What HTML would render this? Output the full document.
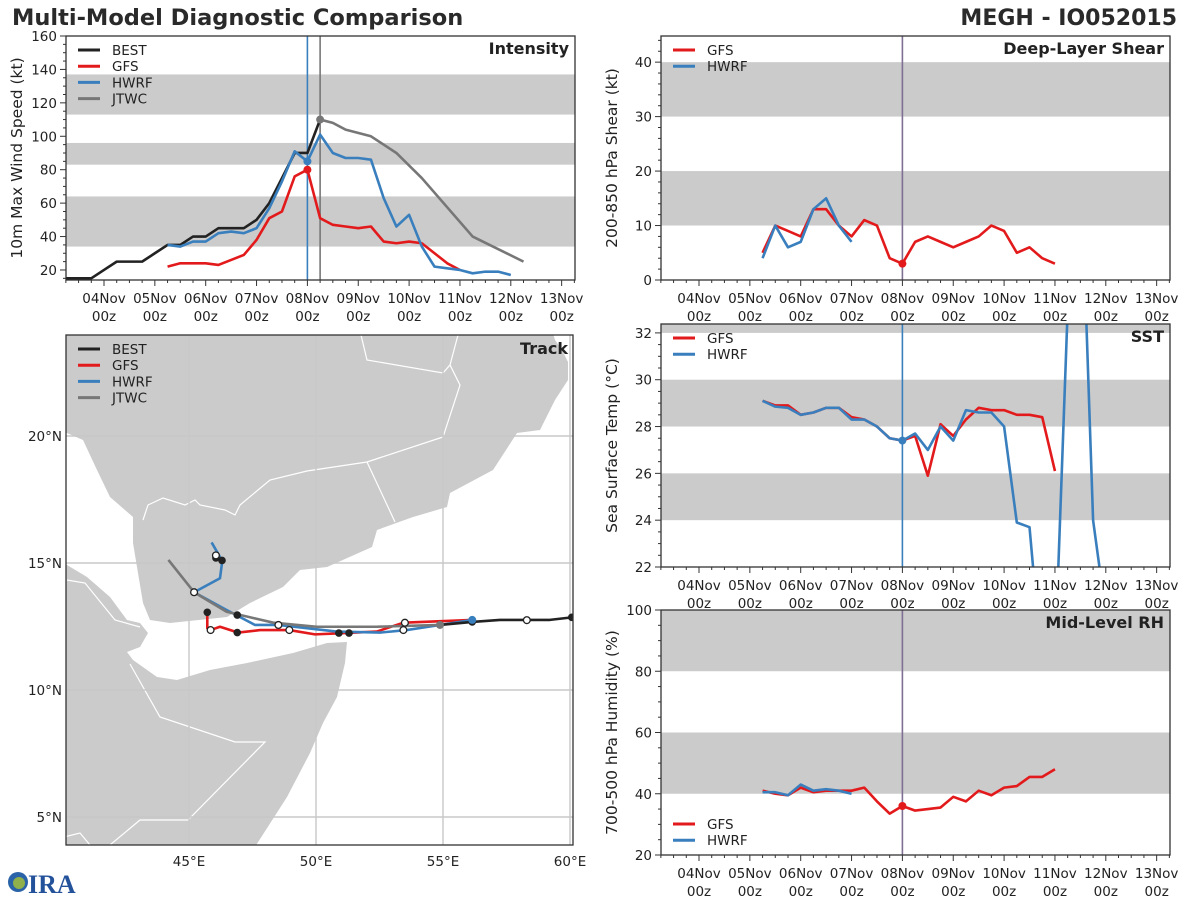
<!DOCTYPE html>
<html><head><meta charset="utf-8"><style>
body{margin:0;background:#fff;}
svg{display:block;font-family:"DejaVu Sans","Liberation Sans",sans-serif;}
</style></head><body>
<svg id="s" width="1200" height="900" viewBox="0 0 1200 900" xmlns="http://www.w3.org/2000/svg">
<text x="12" y="25" font-size="22.5" font-weight="bold" fill="#2a2a2a">Multi-Model Diagnostic Comparison</text>
<text x="1177" y="25" font-size="22" font-weight="bold" fill="#2a2a2a" text-anchor="end">MEGH - IO052015</text>
<g>
<circle cx="18" cy="882" r="10" fill="#2b63a8"/><circle cx="19" cy="883" r="6" fill="#8fb04a"/>
<text x="28" y="893" font-size="26" font-weight="bold" fill="#24529a" font-family="Liberation Serif,serif">IRA</text>
</g>
</svg>
<script>
// ---------- data ----------
const bestT=[-0.75,-0.5,-0.25,0,0.25,0.5,0.75,1,1.25,1.5,1.75,2,2.25,2.5,2.75,3,3.25,3.5,3.75,4,4.25];
const bestV=[15,15,15,20,25,25,25,30,35,35,40,40,45,45,45,50,60,75,90,90,110];
const gfsT=[1.25,1.5,1.75,2,2.25,2.5,2.75,3,3.25,3.5,3.75,4,4.25,4.5,4.75,5,5.25,5.5,5.75,6,6.25,6.5,6.75,7];
const gfsV=[22,24,24,24,23,26,29,38,51,55,76,80,51,47,46,45,46,37,36,37,36,30,24,20];
const hwrfT=[1.25,1.5,1.75,2,2.25,2.5,2.75,3,3.25,3.5,3.75,4,4.25,4.5,4.75,5,5.25,5.5,5.75,6,6.25,6.5,6.75,7,7.25,7.5,7.75,8];
const hwrfV=[35,34,37,37,42,43,42,45,57,73,91,85,101,90,87,87,86,63,46,53,34,22,21,20,18,19,19,17];
const jtwcT=[4.25,4.5,4.75,5.25,5.75,6.25,7.25,8.25];
const jtwcV=[110,108,104,100,90,75,40,25];
const shearGfsT=[1.25,1.5,1.75,2,2.25,2.5,2.75,3,3.25,3.5,3.75,4,4.25,4.5,4.75,5,5.25,5.5,5.75,6,6.25,6.5,6.75,7];
const shearGfsV=[5,10,9,8,13,13,10,8,11,10,4,3,7,8,7,6,7,8,10,9,5,6,4,3];
const shearHwrfT=[1.25,1.5,1.75,2,2.25,2.5,2.75,3];
const shearHwrfV=[4,10,6,7,13,15,10,7];
const sstGfsT=[1.25,1.5,1.75,2,2.25,2.5,2.75,3,3.25,3.5,3.75,4,4.25,4.5,4.75,5,5.25,5.5,5.75,6,6.25,6.5,6.75,7];
const sstGfsV=[29.1,28.9,28.9,28.5,28.6,28.8,28.8,28.4,28.3,28.0,27.5,27.4,27.6,25.9,28.1,27.6,28.3,28.8,28.7,28.7,28.5,28.5,28.4,26.1];
const sstHwrfT=[1.25,1.5,1.75,2,2.25,2.5,2.75,3,3.25,3.5,3.75,4,4.25,4.5,4.75,5,5.25,5.5,5.75,6,6.25,6.5,6.75,7,7.25,7.5,7.75,8];
const sstHwrfV=[29.1,28.85,28.8,28.5,28.6,28.8,28.8,28.3,28.3,28.0,27.5,27.4,27.7,27.0,28.0,27.4,28.7,28.6,28.6,28.0,23.9,23.7,17.6,18,33,40,24,20];
const rhGfsT=[1.25,1.5,1.75,2,2.25,2.5,2.75,3,3.25,3.5,3.75,4,4.25,4.5,4.75,5,5.25,5.5,5.75,6,6.25,6.5,6.75,7];
const rhGfsV=[41,40,39.5,42,40.5,41,41,41,42,37.5,33.5,36,34.5,35,35.5,39,37.5,41,39.5,42,42.5,45.5,45.5,48];
const rhHwrfT=[1.25,1.5,1.75,2,2.25,2.5,2.75,3];
const rhHwrfV=[40.5,40.5,39.5,43,41,41.5,41,40];
const dayLabels=["04Nov","05Nov","06Nov","07Nov","08Nov","09Nov","10Nov","11Nov","12Nov","13Nov"];
// track (lon, lat)
const trkBestLon=[54.88,56.15,57.24,59.21,60.07];
const trkBestLat=[12.56,12.68,12.76,12.76,12.86];
const trkGfsLon=[45.72,45.72,45.85,46.22,46.94,47.80,48.95,49.96,50.92,52.39,53.44,56.15];
const trkGfsLat=[13.06,12.43,12.36,12.49,12.26,12.36,12.36,12.19,12.23,12.30,12.65,12.76];
const trkHwrfLon=[45.89,46.31,46.22,45.20,46.48,47.60,48.52,50.81,52.52,53.57,54.88,56.15];
const trkHwrfLat=[15.81,15.08,14.40,13.85,13.15,12.56,12.56,12.30,12.26,12.36,12.56,12.76];
const trkJtwcLon=[44.19,45.2,46.48,48.32,50.03,52.39,54.88];
const trkJtwcLat=[15.12,13.85,13.08,12.65,12.49,12.49,12.56];
const mkBlackLon=[60.07,56.15,51.3,50.9,46.9,46.9,45.72,46.06,46.3];
const mkBlackLat=[12.86,12.68,12.24,12.24,12.95,12.26,13.06,15.2,15.1];
const mkWhiteLon=[58.3,53.5,53.44,48.95,48.52,45.85,45.2,46.06];
const mkWhiteLat=[12.75,12.65,12.36,12.36,12.56,12.36,13.85,15.3];

const S=document.getElementById('s');
const NS='http://www.w3.org/2000/svg';
function mk(tag,attrs,parent){const e=document.createElementNS(NS,tag);for(const k in attrs)e.setAttribute(k,attrs[k]);(parent||S).appendChild(e);return e;}
const RED='#e31a1c',BLUE='#3a7fbd',BLACK='#222',GRAY='#777',BAND='#cbcbcb';

function panel(o){
  const xs=t=>o.xt0+t*50.85;
  const ys=v=>o.y1-(v-o.vmin)/(o.vmax-o.vmin)*(o.y1-o.y0);
  const g=mk('g',{});
  
  
  const cid='c'+o.name;
  const cp=mk('clipPath',{id:cid},g);mk('rect',{x:o.x0,y:o.y0,width:o.x1-o.x0,height:o.y1-o.y0},cp);
  o.bands.forEach(b=>{const r=mk('rect',{x:o.x0,y:ys(Math.min(b[1],o.vmax)),width:o.x1-o.x0,height:ys(b[0])-ys(Math.min(b[1],o.vmax)),fill:BAND},g);
    
    });
  o.vlines.forEach(v=>{const l=mk('line',{x1:xs(v[0]),x2:xs(v[0]),y1:o.y0,y2:o.y1,stroke:v[1],'stroke-width':1.6},g);
    
    });
  const sg=mk('g',{'clip-path':'url(#'+cid+')'},g);
  o.series.forEach(s=>{
    const p=mk('polyline',{points:s.t.map((t,i)=>xs(t)+','+ys(s.v[i])).join(' '),fill:'none',stroke:s.c,'stroke-width':2.6,'stroke-linejoin':'round'},sg);
    
    
    if(s.dot!==undefined){const i=s.dot;const c=mk('circle',{cx:xs(s.t[i]),cy:ys(s.v[i]),r:4,fill:s.c},sg);
      
      }
  });
  mk('rect',{x:o.x0,y:o.y0,width:o.x1-o.x0,height:o.y1-o.y0,fill:'none',stroke:'#333','stroke-width':1.3},g);
  for(let v=Math.ceil(o.vmin/o.minor)*o.minor;v<=o.vmax+1e-6;v+=o.minor){
    const major=Math.abs(v/o.major-Math.round(v/o.major))<1e-6;
    mk('line',{x1:o.x0,x2:o.x0-(major?6:3),y1:ys(v),y2:ys(v),stroke:'#333','stroke-width':1},g);
    if(major){const t=mk('text',{x:o.x0-9,y:ys(v)+5,'font-size':13.5,'text-anchor':'end',fill:'#222'},g);t.textContent=o.fmt?o.fmt(v):v;
      
      }
  }
  for(let t=-0.75;t<=9.3;t+=0.25){const x=xs(t);if(x<o.x0-0.5||x>o.x1+0.5)continue;
    const major=Math.abs(t-Math.round(t))<1e-6;
    mk('line',{x1:x,x2:x,y1:o.y1,y2:o.y1+(major?6:3),stroke:'#333','stroke-width':1},g);}
  dayLabels.forEach((d,i)=>{const x=xs(i);
    const t1=mk('text',{x:x,y:o.y1+23,'font-size':13.5,'text-anchor':'middle',fill:'#222'},g);t1.textContent=d;
    
    
    const t2=mk('text',{x:x,y:o.y1+41,'font-size':13.5,'text-anchor':'middle',fill:'#222'},g);t2.textContent='00z';
    
    });
  const tt=mk('text',{x:o.x1-6,y:o.y0+18,'font-size':16,'font-weight':'bold','text-anchor':'end',fill:'#222'},g);tt.textContent=o.title;
  
  
  const cy=(o.y0+o.y1)/2, ax=o.x0-44;
  const yt=mk('text',{x:ax,y:cy,'font-size':15.5,'text-anchor':'middle',fill:'#222',transform:'rotate(-90 '+ax+' '+cy+')'},g);yt.textContent=o.ylab;
  
  
  legend(g,o.x0+12,o.legY,o.series.map(s=>[s.label,s.c]));
}
function legend(g,x,y,items){
  items.forEach((it,i)=>{const yy=y+i*16.2;
    const l=mk('line',{x1:x,x2:x+22,y1:yy,y2:yy,stroke:it[1],'stroke-width':3},g);
    
    
    const t=mk('text',{x:x+34,y:yy+5,'font-size':13.5,fill:'#222'},g);t.textContent=it[0];
    
    });
}
panel({name:'intensity-panel',x0:66,x1:575,y0:36,y1:280,xt0:104,vmin:14,vmax:160,major:20,minor:5,title:'Intensity',ylab:'10m Max Wind Speed (kt)',legY:50,
  bands:[[34,64],[83,96],[113,137]],vlines:[[4,BLUE],[4.25,GRAY]],
  series:[{n:'best-intensity-line',label:'BEST',c:BLACK,t:bestT,v:bestV},{n:'gfs-intensity-line',label:'GFS',c:RED,t:gfsT,v:gfsV,dot:11},
    {n:'hwrf-intensity-line',label:'HWRF',c:BLUE,t:hwrfT,v:hwrfV,dot:11},{n:'jtwc-intensity-line',label:'JTWC',c:GRAY,t:jtwcT,v:jtwcV,dot:0}]});
panel({name:'shear-panel',x0:661,x1:1170,y0:36,y1:280,xt0:699,vmin:0,vmax:44.8,major:10,minor:2,title:'Deep-Layer Shear',ylab:'200-850 hPa Shear (kt)',legY:50,
  bands:[[10,20],[30,40]],vlines:[[4,'#7f6f93']],
  series:[{n:'gfs-shear-line',label:'GFS',c:RED,t:shearGfsT,v:shearGfsV,dot:11},{n:'hwrf-shear-line',label:'HWRF',c:BLUE,t:shearHwrfT,v:shearHwrfV}]});
panel({name:'sst-panel',x0:661,x1:1170,y0:324,y1:567,xt0:699,vmin:22,vmax:32.38,major:2,minor:0.5,title:'SST',ylab:'Sea Surface Temp (°C)',legY:338,fmt:v=>Math.round(v),
  bands:[[24,26],[28,30],[32,33]],vlines:[[4,BLUE]],
  series:[{n:'gfs-sst-line',label:'GFS',c:RED,t:sstGfsT,v:sstGfsV},{n:'hwrf-sst-line',label:'HWRF',c:BLUE,t:sstHwrfT,v:sstHwrfV,dot:11}]});
panel({name:'rh-panel',x0:661,x1:1170,y0:610,y1:855,xt0:699,vmin:20,vmax:100,major:20,minor:5,title:'Mid-Level RH',ylab:'700-500 hPa Humidity (%)',legY:824,
  bands:[[40,60],[80,100]],vlines:[[4,'#7f6f93']],
  series:[{n:'gfs-rh-line',label:'GFS',c:RED,t:rhGfsT,v:rhGfsV,dot:11},{n:'hwrf-rh-line',label:'HWRF',c:BLUE,t:rhHwrfT,v:rhHwrfV}]});

// ---------- track map ----------
const MX0=66,MX1=573,MY0=335,MY1=845;
const lx=lon=>189+(lon-45)*25.4, ly=lat=>436-(lat-20)*25.4;
const mg=mk('g',{});


const mcp=mk('clipPath',{id:'mclip'},mg);mk('rect',{x:MX0,y:MY0,width:MX1-MX0,height:MY1-MY0},mcp);
const inner=mk('g',{'clip-path':'url(#mclip)'},mg);
const arabia=mk('polygon',{fill:BAND,points:'60,330 552,330 555,340 562,350 568,362 568,380 555,400 540,430 517,433 493,470 450,493 447,507 413,517 377,530 372,547 327,567 300,570 283,587 250,603 227,617 170,623 150,620 143,603 133,543 133,517 110,497 97,470 83,440 60,430'},inner);


const africa=mk('polygon',{fill:BAND,points:'60,563 67,565 87,577 110,597 127,620 140,623 148,633 140,647 127,652 133,660 157,677 177,680 210,670 247,663 293,653 327,643 347,642 345,663 337,697 323,723 310,753 287,797 253,850 60,850'},inner);


[['361,335 367,360 443,373 450,365 460,385 443,437 367,462 307,471 270,480 240,505 235,515 225,510 200,505 195,500 185,505 163,498 148,505 143,520'],
 ['367,462 395,522'],['450,365 458,335'],['67,580 85,583 115,620 140,627'],['130,664 160,717 235,742 265,742 188,820 140,820 110,845'],['60,838 80,833 90,845']].forEach(p=>{
  const b=mk('polyline',{points:p[0],fill:'none',stroke:'#fff','stroke-width':1.2},inner);
  
  });
[45,50,55,60].forEach(lon=>{mk('line',{x1:lx(lon),x2:lx(lon),y1:MY0,y2:MY1,stroke:'#c8c8c8','stroke-width':1.4},inner);
  const t=mk('text',{x:lx(lon),y:MY1+21,'font-size':13.5,'text-anchor':'middle',fill:'#222'},mg);t.textContent=lon+'°E';
  
  });
[5,10,15,20].forEach(lat=>{mk('line',{x1:MX0,x2:MX1,y1:ly(lat),y2:ly(lat),stroke:'#c8c8c8','stroke-width':1.4},inner);
  const t=mk('text',{x:MX0-4,y:ly(lat)+5,'font-size':13.5,'text-anchor':'end',fill:'#222'},mg);t.textContent=lat+'°N';
  
  });
function trk(n,lon,lat,c){const p=mk('polyline',{points:lon.map((l,i)=>lx(l)+','+ly(lat[i])).join(' '),fill:'none',stroke:c,'stroke-width':2.6,'stroke-linejoin':'round'},inner);
  
  }
trk('gfs-track',trkGfsLon,trkGfsLat,RED);
trk('hwrf-track',trkHwrfLon,trkHwrfLat,BLUE);
trk('jtwc-track',trkJtwcLon,trkJtwcLat,GRAY);
trk('best-track',trkBestLon,trkBestLat,BLACK);
mkBlackLon.forEach((l,i)=>{const c=mk('circle',{cx:lx(l),cy:ly(mkBlackLat[i]),r:3.8,fill:BLACK},inner);
  
  });
mkWhiteLon.forEach((l,i)=>{const c=mk('circle',{cx:lx(l),cy:ly(mkWhiteLat[i]),r:3.4,fill:'#fff',stroke:BLACK,'stroke-width':1.3},inner);
  
  });
const bd=mk('circle',{cx:lx(56.15),cy:ly(12.76),r:4,fill:BLUE},inner);


const gd=mk('circle',{cx:lx(54.88),cy:ly(12.56),r:4,fill:GRAY},inner);


mk('rect',{x:MX0,y:MY0,width:MX1-MX0,height:MY1-MY0,fill:'none',stroke:'#333','stroke-width':1.3},mg);
const tt=mk('text',{x:MX1-5,y:MY0+19,'font-size':16,'font-weight':'bold','text-anchor':'end',fill:'#222'},mg);tt.textContent='Track';


legend(mg,78,349,[['BEST',BLACK],['GFS',RED],['HWRF',BLUE],['JTWC',GRAY]]);
</script>
</body></html>
